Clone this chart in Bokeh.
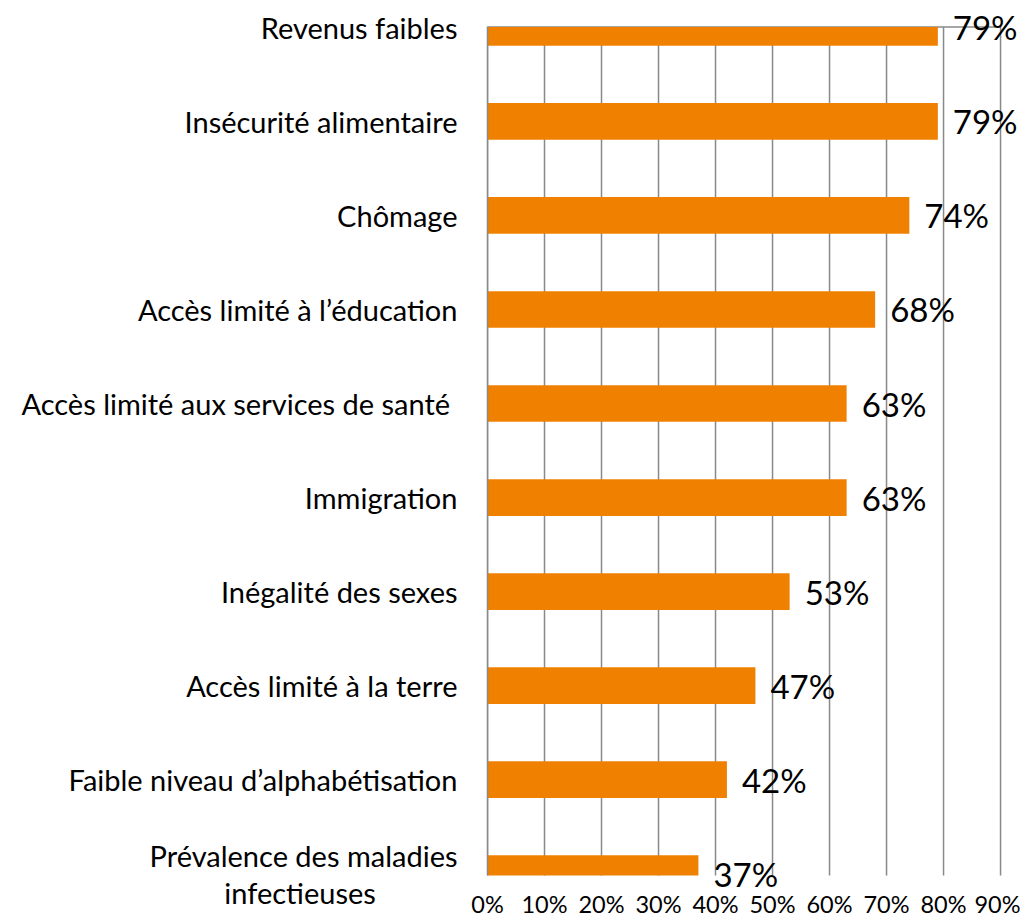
import numpy as np
from bokeh.plotting import figure
from bokeh.models import Range1d, FixedTicker, ColumnDataSource, Label
from bokeh.embed import file_html
from bokeh.resources import INLINE

categories = [
    "Revenus faibles",
    "Insécurité alimentaire",
    "Chômage",
    "Accès limité à l’éducation",
    "Accès limité aux services de santé\u00a0",
    "Immigration",
    "Inégalité des sexes",
    "Accès limité à la terre",
    "Faible niveau d’alphabétisation",
    "Prévalence des maladies\ninfectieuses",
]
values = [0.79, 0.79, 0.74, 0.68, 0.63, 0.63, 0.53, 0.47, 0.42, 0.37]
value_labels = ["79%", "79%", "74%", "68%", "63%", "63%", "53%", "47%", "42%", "37%"]
x_ticks = [0.0, 0.1, 0.2, 0.3, 0.4, 0.5, 0.6, 0.7, 0.8, 0.9]
x_tick_labels = ["0%", "10%", "20%", "30%", "40%", "50%", "60%", "70%", "80%", "90%"]

FONT = "Lato"
GRID = "#898989"
BAR = "#F08000"
BAR_H = 0.39


def centered(label, pad=11):
    # the axis right-aligns every line; pad the shorter second line so the
    # two lines look centred, as in the original chart
    lines = label.split("\n")
    if len(lines) < 2:
        return label
    return lines[0] + "\n" + lines[1] + "\u00a0" * pad


ys = np.arange(len(categories))
# visible chart area (like the original chart frame): from first to last category
v_top = ys[0] - 0.005
v_bottom = ys[-1] + 0.02
bar_top = np.maximum(ys - BAR_H / 2, v_top)
bar_bottom = np.minimum(ys + BAR_H / 2, v_bottom)

src = ColumnDataSource(dict(y=ys, value=values, top=bar_top, bottom=bar_bottom,
                            left=np.zeros(len(values))))

p = figure(
    width=1020, height=920,
    x_range=Range1d(x_ticks[0], 0.935),
    y_range=Range1d(v_bottom + 0.127, v_top - 0.249),
    output_backend="svg", toolbar_location=None,
    min_border_left=487, min_border_right=0, min_border_top=3, min_border_bottom=30,
)
p.outline_line_color = None
p.background_fill_color = "white"
p.xgrid.grid_line_color = None
p.ygrid.grid_line_color = None

# gridlines limited to the chart area
p.segment(x0=x_ticks, x1=x_ticks, y0=[v_top] * len(x_ticks), y1=[v_bottom] * len(x_ticks),
          line_color=GRID, line_width=1.5, level="underlay")
# top border of the chart area
p.segment(x0=[x_ticks[0]], x1=[x_ticks[-1]], y0=[v_top], y1=[v_top],
          line_color=GRID, line_width=1.5, level="underlay")

p.quad(left="left", right="value", top="top", bottom="bottom",
       fill_color=BAR, line_color=None, source=src)

for yv, v, lab in zip(ys, values, value_labels):
    p.add_layout(Label(x=v, y=yv, text=lab, x_offset=15,
                       text_baseline="middle", text_align="left",
                       text_font=FONT, text_font_size="33px", text_color="black"))

# y axis
p.yaxis.ticker = FixedTicker(ticks=list(ys))
p.yaxis.major_label_overrides = {int(i): centered(c) for i, c in zip(ys, categories)}
p.yaxis.major_label_text_font = FONT
p.yaxis.major_label_text_font_size = "29px"
p.yaxis.major_label_text_line_height = 1.05
p.yaxis.major_label_text_color = "black"
p.yaxis.major_tick_line_color = None
p.yaxis.minor_tick_line_color = None
p.yaxis.major_tick_out = 0
p.yaxis.major_label_standoff = 30
p.yaxis.axis_line_color = GRID
p.yaxis.axis_line_width = 1.5
p.yaxis.bounds = (v_top, v_bottom)

# x axis
xt = FixedTicker(ticks=x_ticks)
p.xaxis.ticker = xt
p.xaxis.major_label_overrides = {t: l for t, l in zip(x_ticks, x_tick_labels)}
p.xaxis.major_label_text_font = FONT
p.xaxis.major_label_text_font_size = "23.5px"
p.xaxis.major_label_text_color = "black"
p.xaxis.major_tick_line_color = None
p.xaxis.minor_tick_line_color = None
p.xaxis.major_tick_out = 0
p.xaxis.axis_line_color = None
p.xaxis.major_label_standoff = 2

open("out.html", "w").write(file_html(p, INLINE))
